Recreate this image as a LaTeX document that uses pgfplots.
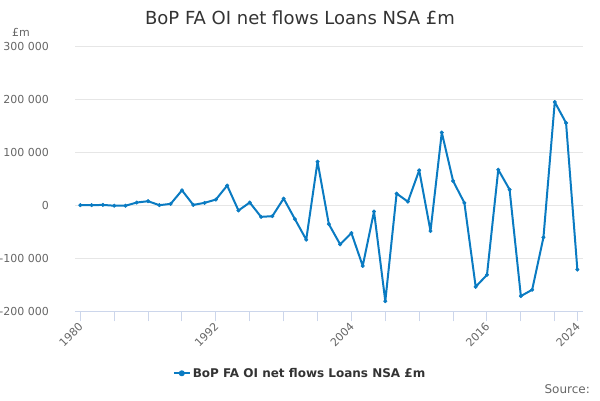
\documentclass[border=0pt]{standalone}
\usepackage{fontspec}
\setmainfont{DejaVu Sans}
\usepackage{pgfplots}
\pgfplotsset{compat=1.18}
\definecolor{series}{HTML}{0A7BC2}
\definecolor{gridgray}{HTML}{E6E6E6}
\definecolor{hcline}{HTML}{CCD6EB}
\definecolor{labelgray}{HTML}{666666}
\definecolor{titlegray}{HTML}{333333}
\begin{document}
\begin{tikzpicture}
\path[use as bounding box] (0,0) rectangle (600pt,400pt);
\begin{axis}[
  at={(75pt,88.7pt)}, anchor=south west,
  scale only axis, width=508pt, height=265.3pt,
  xmin=1979.53, xmax=2024.5, ymin=-200000, ymax=300000,
  axis x line*=bottom, axis y line*=left,
  x axis line style={hcline, line width=1pt, -},
  y axis line style={draw=none},
  tick align=outside, major tick length=10pt,
  xtick={1980,1983,1986,1989,1992,1995,1998,2001,2004,2007,2010,2013,2016,2019,2022,2024},
  xticklabels={1980,,,,1992,,,,2004,,,,2016,,,2024},
  xtick style={hcline, line width=1pt},
  ytick={-200000,-100000,0,100000,200000,300000},
  yticklabels={-200 000,-100 000,0,100 000,200 000,300 000},
  scaled y ticks=false,
  ytick style={draw=none},
  ymajorgrids, grid style={gridgray, line width=1pt},
  xticklabel style={xshift=0.7pt, yshift=-3pt, rotate=45, anchor=east, inner sep=0pt, font=\fontsize{11pt}{13pt}\selectfont, text=labelgray},
  yticklabel style={anchor=east, inner sep=0pt, xshift=-16pt, font=\fontsize{11pt}{13pt}\selectfont, text=labelgray},
  legend style={at={(0.443,-0.2337)}, anchor=center, draw=none, fill=none, font=\fontsize{12pt}{14pt}\selectfont\bfseries, text=titlegray, inner sep=0pt},
  legend image code/.code={\draw[series, line width=2pt] (0pt,0pt) -- (16pt,0pt); \fill[series] (8pt,0pt) circle (2pt);},
  clip=false,
]
\addplot[color=series, line width=2pt, line join=round, mark=*, mark size=1.8pt, mark options={fill=series, line width=0.5pt}] coordinates {
(1980,0) (1981,0) (1982,500) (1983,-1000) (1984,-1000) (1985,5000) (1986,7500) (1987,0) (1988,2500) (1989,28000)
(1990,500) (1991,4400) (1992,10600) (1993,37000) (1994,-10000) (1995,5000) (1996,-22000) (1997,-20700) (1998,12500) (1999,-26300)
(2000,-65000) (2001,82000) (2002,-35700) (2003,-73800) (2004,-52500) (2005,-114500) (2006,-11900) (2007,-181000) (2008,21900) (2009,6600)
(2010,65700) (2011,-48800) (2012,137000) (2013,45600) (2014,4400) (2015,-153800) (2016,-131300) (2017,66900) (2018,29400) (2019,-171300)
(2020,-159400) (2021,-60600) (2022,194400) (2023,155000) (2024,-121300)
};
\addlegendentry{BoP FA OI net flows Loans NSA £m}
\end{axis}
\node[text=titlegray, font=\fontsize{18pt}{21pt}\selectfont] at (300pt,382pt) {BoP FA OI net flows Loans NSA £m};
\node[text=labelgray, font=\fontsize{11pt}{13pt}\selectfont, anchor=west, inner sep=0pt] at (12pt,368pt) {£m};
\node[text=labelgray, font=\fontsize{12pt}{14pt}\selectfont, anchor=east, inner sep=0pt] at (590pt,11pt) {Source:};
\end{tikzpicture}
\end{document}
